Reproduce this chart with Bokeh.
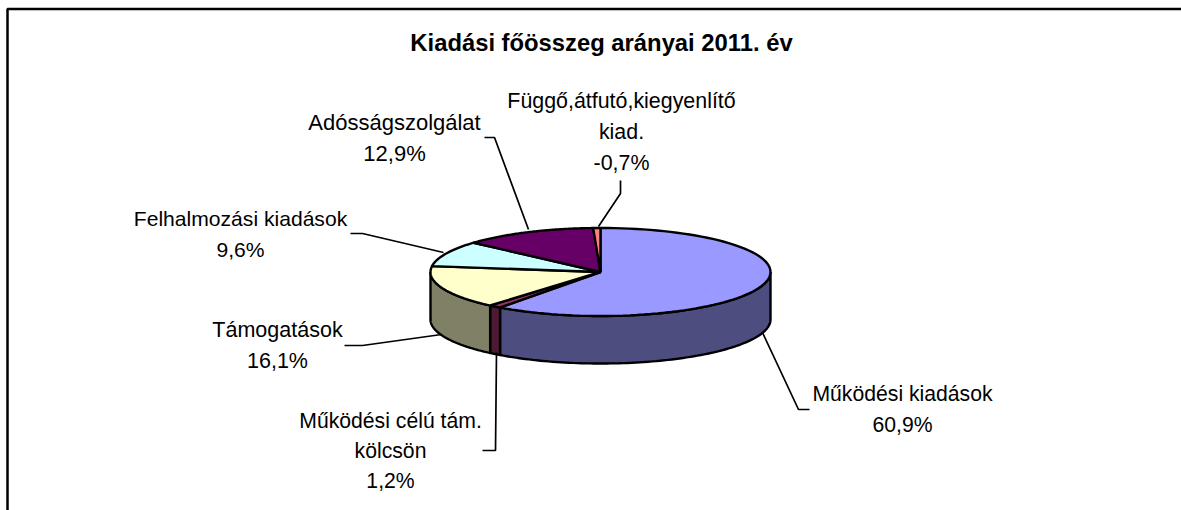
import numpy as np
from bokeh.plotting import figure
from bokeh.models import Range1d
from bokeh.embed import file_html
from bokeh.resources import INLINE
from bokeh.core.properties import value

title = "Kiadási főösszeg arányai 2011. év"
categories = ["Működési kiadások", "Működési célú tám. kölcsön", "Támogatások",
              "Felhalmozási kiadások", "Adósságszolgálat", "Függő,átfutó,kiegyenlítő kiad."]
shares = [60.9, 1.2, 16.1, 9.6, 12.9, -0.7]
tick_labels = ["60,9%", "1,2%", "16,1%", "9,6%", "12,9%", "-0,7%"]
top_colors = ["#9999FF", "#993366", "#FFFFCC", "#CCFFFF", "#660066", "#FF8080"]
side_colors = ["#4D4D80", "#4D1A33", "#808066", "#668080", "#330033", "#804040"]

label_lines = [["Működési kiadások", "60,9%"],
               ["Működési célú tám.", "kölcsön", "1,2%"],
               ["Támogatások", "16,1%"],
               ["Felhalmozási kiadások", "9,6%"],
               ["Adósságszolgálat", "12,9%"],
               ["Függő,átfutó,kiegyenlítő", "kiad.", "-0,7%"]]
label_cx = [902, 390, 277, 240, 394, 621]
label_y = [[393, 424], [420, 450, 480], [329, 360], [218, 249], [122, 153], [100, 131, 162]]
label_px = [21.2, 21.2, 21.5, 21.1, 22, 21.4]
leaders = [([762, 798, 809], [332, 409, 409]),
           ([496, 495, 482], [352, 450, 450]),
           ([441, 362, 344], [334, 345, 345]),
           ([443, 362, 350], [252, 233, 233]),
           ([528, 494, 484], [229, 137, 137]),
           ([598, 620, 620], [226, 193, 180])]

W, H = 1181, 510
cx, cy, rx, ry, depth = 600, 271.5, 170, 44, 47.5

p = figure(width=W, height=H, output_backend="svg", toolbar_location=None,
           x_range=Range1d(0, W), y_range=Range1d(H, 0),
           min_border=0, outline_line_color=None)
p.axis.visible = False
p.grid.visible = False

p.line([7, 7, W], [H, 8.5, 8.5], line_color="black", line_width=2.5)

frac = np.abs(shares) / np.abs(shares).sum()
ends = np.cumsum(frac) * 2 * np.pi
starts = ends - frac * 2 * np.pi

def rim(a0, a1, n=90):
    t = np.linspace(a0, a1, n)
    return cx + rx * np.sin(t), cy - ry * np.cos(t)

for a0, a1, col in zip(starts, ends, side_colors):
    lo, hi = max(a0, np.pi / 2), min(a1, 3 * np.pi / 2)
    if hi <= lo:
        continue
    x, y = rim(lo, hi)
    p.patch(np.r_[x, x[::-1]], np.r_[y, y[::-1] + depth], fill_color=col,
            line_color="black", line_width=2.4)

for a0, a1, col in zip(starts, ends, top_colors):
    x, y = rim(a0, a1)
    p.patch(np.r_[cx, x], np.r_[cy, y], fill_color=col, line_color="black", line_width=2.4)

for xs, ys in leaders:
    p.line(xs, ys, line_color="black", line_width=1.7)

p.text([601], [42], text=[title], text_font=value("Liberation Sans"), text_font_style="bold",
       text_font_size="23.8px", text_align="center", text_baseline="middle", text_color="black")
for lines, x0, ys, px in zip(label_lines, label_cx, label_y, label_px):
    p.text([x0] * len(lines), ys, text=lines, text_font=value("Liberation Sans"),
           text_font_size=f"{px}px", text_align="center", text_baseline="middle", text_color="black")

open("out.html", "w").write(file_html(p, INLINE))
